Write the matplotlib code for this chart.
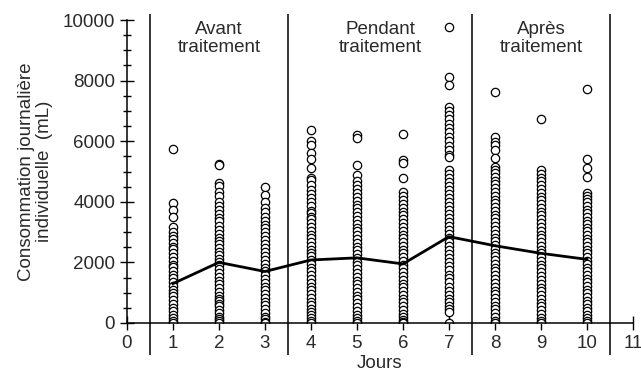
import matplotlib.pyplot as plt
from matplotlib.ticker import MultipleLocator

plt.rcParams['font.family'] = ['Liberation Sans', 'DejaVu Sans']

# jours et consommations individuelles (mL)
jours = [1, 2, 3, 4, 5, 6, 7, 8, 9, 10]

jour1 = [5740, 3960, 3730, 3500, 3170, 3000, 2880, 2760, 2650, 2520, 2430, 2300,
         2180, 2060, 1930, 1850, 1700, 1580, 1470, 1350, 1230, 1100, 990, 880,
         760, 640, 510, 390, 260, 150, 60, 0]
jour2 = [5260, 5210, 4620, 4520, 4320, 4180, 4000, 3870, 3730, 3600, 3460, 3380,
         3210, 3080, 2950, 2820, 2710, 2600, 2480, 2350, 2250, 2120, 2010, 1900,
         1780, 1650, 1520, 1400, 1280, 1150, 1020, 900, 800, 720, 640, 560, 420,
         320, 210, 120, 50, 0]
jour3 = [4490, 4220, 4000, 3800, 3660, 3510, 3380, 3250, 3120, 3000, 2880, 2750,
         2610, 2480, 2350, 2210, 2080, 1950, 1820, 1700, 1580, 1450, 1330, 1200,
         1080, 950, 820, 700, 580, 450, 320, 210, 120, 40, 0]
jour4 = [6370, 6010, 5880, 5620, 5400, 5110, 4800, 4720, 4550, 4400, 4250, 4110,
         3980, 3850, 3710, 3620, 3500, 3420, 3300, 3180, 3050, 2920, 2800, 2680,
         2550, 2420, 2300, 2200, 2080, 1950, 1820, 1700, 1580, 1450, 1320, 1200,
         1080, 950, 820, 700, 580, 450, 350, 250, 180, 80, 0]
jour5 = [6200, 6100, 5210, 4880, 4700, 4560, 4420, 4280, 4150, 4020, 3900, 3780,
         3650, 3520, 3400, 3280, 3150, 3020, 2900, 2780, 2650, 2520, 2400, 2280,
         2150, 2020, 1900, 1780, 1650, 1520, 1400, 1280, 1150, 1020, 900, 780,
         650, 520, 400, 280, 150, 60, 0]
jour6 = [6240, 5380, 5280, 4790, 4320, 4180, 4050, 3920, 3800, 3680, 3550, 3420,
         3300, 3180, 3050, 2920, 2800, 2680, 2550, 2420, 2300, 2180, 2050, 1920,
         1800, 1680, 1550, 1420, 1300, 1180, 1050, 920, 800, 680, 550, 420, 300,
         200, 100, 30, 0]
jour7 = [9770, 8120, 7850, 7130, 7000, 6850, 6720, 6580, 6430, 6300, 6150, 6000,
         5850, 5700, 5550, 5480, 5050, 4920, 4800, 4660, 4530, 4400, 4270, 4140,
         4000, 3870, 3740, 3600, 3470, 3340, 3200, 3070, 2940, 2800, 2670, 2540,
         2400, 2270, 2140, 2000, 1870, 1740, 1600, 1470, 1340, 1200, 1070, 940,
         800, 680, 560, 450, 360, 0]
jour8 = [7620, 6140, 5990, 5870, 5700, 5450, 5150, 5050, 4940, 4820, 4700, 4580,
         4450, 4320, 4200, 4070, 3950, 3820, 3700, 3570, 3450, 3320, 3200, 3070,
         2950, 2820, 2700, 2570, 2450, 2320, 2200, 2070, 1950, 1820, 1700, 1570,
         1450, 1320, 1200, 1070, 950, 820, 700, 570, 450, 320, 200, 80, 0]
jour9 = [6730, 5050, 4930, 4800, 4680, 4550, 4420, 4300, 4170, 4050, 3920, 3800,
         3670, 3550, 3420, 3300, 3170, 3050, 2920, 2800, 2670, 2550, 2420, 2300,
         2170, 2050, 1920, 1800, 1670, 1550, 1420, 1300, 1170, 1050, 920, 800,
         670, 550, 420, 300, 180, 80, 0]
jour10 = [7720, 5400, 5110, 4830, 4290, 4200, 4100, 3980, 3860, 3740, 3620, 3500,
          3380, 3260, 3140, 3020, 2900, 2780, 2660, 2540, 2420, 2300, 2180, 2060,
          1940, 1820, 1700, 1580, 1460, 1340, 1220, 1100, 980, 860, 740, 620, 500,
          380, 260, 160, 70, 0]
valeurs = [jour1, jour2, jour3, jour4, jour5, jour6, jour7, jour8, jour9, jour10]

moyennes = [1300, 2000, 1700, 2080, 2150, 1950, 2850, 2550, 2300, 2100]

separations = [0.5, 3.5, 7.5, 10.5]
periodes = ["Avant\ntraitement", "Pendant\ntraitement", "Après\ntraitement"]
pos_periodes = [2, 5.5, 9]

fig = plt.figure(figsize=(6.41, 3.74), dpi=100)
ax = fig.add_axes([0.198, 0.1364, 0.7895, 0.81])

for j, v in zip(jours, valeurs):
    ax.plot([j] * len(v), v, 'o', ms=6, mfc='white', mec='black', mew=0.9,
            linestyle='none', zorder=2)

ax.plot(jours, moyennes, color='black', lw=2, zorder=3)

ax.vlines(separations, -1060, 10200, color='black', lw=1.1, clip_on=False)

for x, t in zip(pos_periodes, periodes):
    ax.text(x, 9380, t, ha='center', va='center', fontsize=13.5,
            color='#2a2a2a', linespacing=1.08)

ax.set_xlim(0, 11)
ax.set_ylim(0, 10000)
ax.set_xticks(range(0, 12))
ax.yaxis.set_major_locator(MultipleLocator(2000))
ax.yaxis.set_minor_locator(MultipleLocator(500))
ax.tick_params(axis='both', which='major', direction='inout', length=10,
               width=1, labelsize=13.5, labelcolor='#2a2a2a')
ax.tick_params(axis='y', which='minor', direction='inout', length=6, width=1)
ax.tick_params(axis='x', pad=4)

for s in ['top', 'right']:
    ax.spines[s].set_visible(False)
for s in ['left', 'bottom']:
    ax.spines[s].set_linewidth(1.1)

ax.set_xlabel("Jours", fontsize=13.5, color='#2a2a2a', labelpad=2)
ax.set_ylabel("Consommation journalière\nindividuelle  (mL)", fontsize=13.5,
              color='#2a2a2a', labelpad=7, linespacing=1.05)

fig.savefig("out.png", dpi=100)
